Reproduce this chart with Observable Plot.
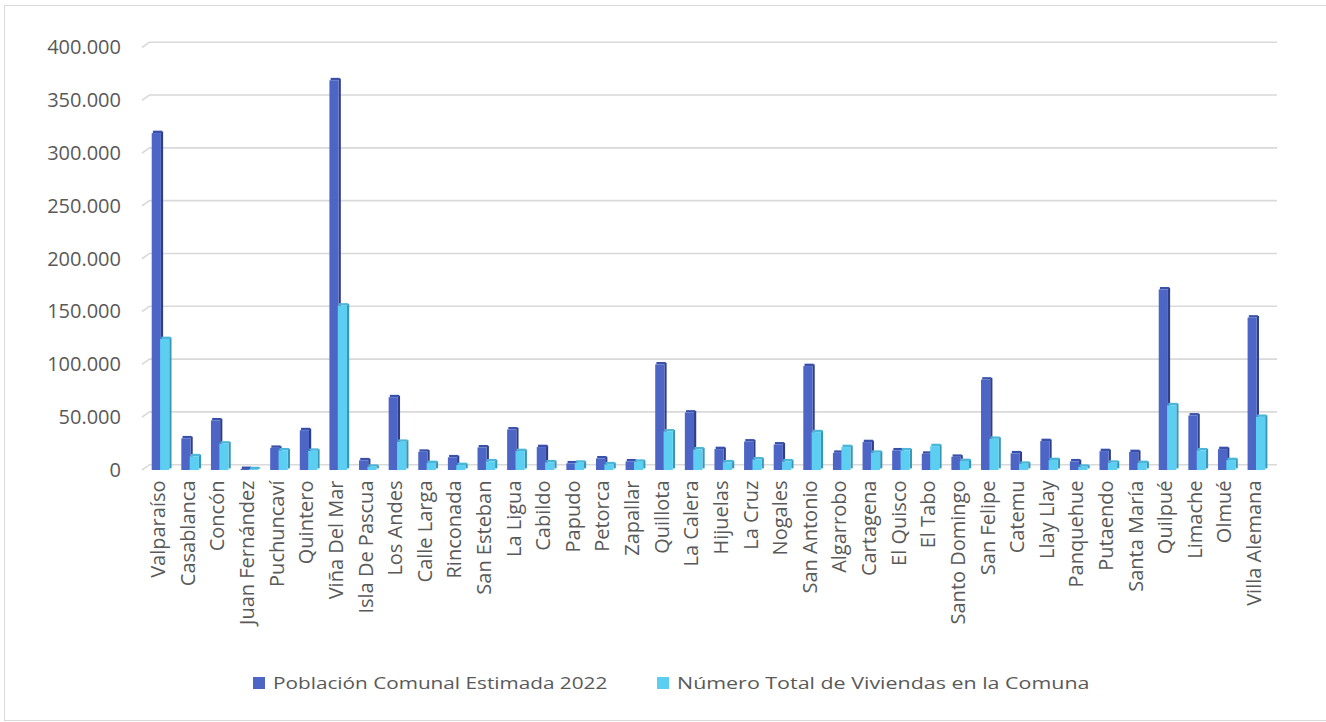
<!DOCTYPE html>
<html>
<head>
<meta charset="utf-8">
<script src="https://cdn.jsdelivr.net/npm/d3@7"></script>
<script src="https://cdn.jsdelivr.net/npm/@observablehq/plot@0.6"></script>
<style>
  html, body { margin: 0; padding: 0; background: #fff; }
  body { width: 1326px; height: 722px; position: relative; overflow: hidden; font-family: "Open Sans", sans-serif; }
  #frame { position: absolute; left: 3.5px; top: 4.5px; width: 1330px; height: 716px; border: 1.5px solid #d9d9d9; box-sizing: border-box; }
  #chart { position: absolute; left: 0; top: 0; }
  .leg { position: absolute; top: 670px; font-size: 17px; color: #595959; white-space: nowrap; line-height: 26px; height: 26px; }
  .leg .sw { position: absolute; top: 7px; left: 0; width: 12px; height: 12px; }
  .leg .tx { position: absolute; left: 20px; top: 0; display: inline-block; transform-origin: 0 50%; }
</style>
</head>
<body>
<div id="frame"></div>
<div id="chart"></div>
<div class="leg" style="left:253px"><span class="sw" style="background:#4D66C6"></span><span class="tx" style="transform:scaleX(1.22)">Población Comunal Estimada 2022</span></div>
<div class="leg" style="left:657px"><span class="sw" style="background:#5BCEF2"></span><span class="tx" style="transform:scaleX(1.26)">Número Total de Viviendas en la Comuna</span></div>
<script>
const communes = ["Valparaíso","Casablanca","Concón","Juan Fernández","Puchuncaví","Quintero","Viña Del Mar","Isla De Pascua","Los Andes","Calle Larga","Rinconada","San Esteban","La Ligua","Cabildo","Papudo","Petorca","Zapallar","Quillota","La Calera","Hijuelas","La Cruz","Nogales","San Antonio","Algarrobo","Cartagena","El Quisco","El Tabo","Santo Domingo","San Felipe","Catemu","Llay Llay","Panquehue","Putaendo","Santa María","Quilpué","Limache","Olmué","Villa Alemana"];
const poblacion = [319000,30000,47000,1000,21000,37700,369000,9200,68900,17300,12000,21400,38400,21700,6300,11000,8200,100000,54400,19800,27000,24200,98400,16300,26400,18600,15400,12500,85600,15800,27400,8200,17900,17000,171000,51600,19800,144300];
const viviendas = [124000,13000,25000,800,18600,18200,155700,3100,26700,6600,4700,8200,17900,7300,6900,5400,7800,36500,19500,7300,10000,8200,35800,21700,16300,18600,22600,8500,29500,5900,9400,3100,6900,6600,61300,18600,9400,50300];
const yTicks = [0,50000,100000,150000,200000,250000,300000,350000,400000];

const rows = communes.map((c, i) => ({commune: c, pob: poblacion[i], viv: viviendas[i]}));

const W = 1326, H = 640, ML = 143.5, MR = 57, MT = 47.5, MB = H - 470;
const bw = (W - ML - MR) / communes.length;

const fmt = d3.formatLocale({decimal: ",", thousands: ".", grouping: [3], currency: ["", ""]}).format(",");

// back-wall gridlines with 3D diagonal at the left
const grid = (index, scales, values, dims) => {
  const g = d3.create("svg:g").attr("fill", "none").attr("stroke", "#d9d9d9").attr("stroke-width", 1.6);
  for (const t of yTicks) {
    const y = scales.y(t);
    g.append("path").attr("d", `M${ML - 1.5},${y}L${ML + 6},${y - 5.3}H${W - MR + 8}`);
  }
  return g.node();
};

function bars(key, offset, front, side, top) {
  const fw = 9.2, sw = 2.2;
  return [
    Plot.barY(rows, {x: "commune", y: key, fill: side, insetLeft: offset + fw, insetRight: bw - offset - fw - sw, dy: -1.6}),
    Plot.barY(rows, {x: "commune", y1: key, y2: key, fill: top, insetTop: -2.4, insetLeft: offset + 1.2, insetRight: bw - offset - fw - 1.2}),
    Plot.barY(rows, {x: "commune", y: key, fill: front, insetLeft: offset, insetRight: bw - offset - fw})
  ];
}

const chart = Plot.plot({
  width: W,
  height: H,
  marginLeft: ML,
  marginRight: MR,
  marginTop: MT,
  marginBottom: MB,
  style: {fontFamily: "Open Sans", background: "transparent", overflow: "visible"},
  x: {domain: communes, padding: 0, round: false, label: null},
  y: {domain: [0, 400000], label: null},
  marks: [
    grid,
    ...bars("pob", 8.2, "#4D66C6", "#2E3E88", "#3A51AC"),
    ...bars("viv", 16.6, "#5BCEF2", "#3897B6", "#4AB6D8"),
    Plot.axisY({ticks: yTicks, tickFormat: d => fmt(d), tickSize: 0, tickPadding: 23, fontSize: 20, fill: "#595959", label: null}),
    Plot.axisX({tickRotate: -90, tickSize: 0, tickPadding: 10, fontSize: 20, fill: "#595959", label: null})
  ]
});
document.getElementById("chart").appendChild(chart);
</script>
</body>
</html>
